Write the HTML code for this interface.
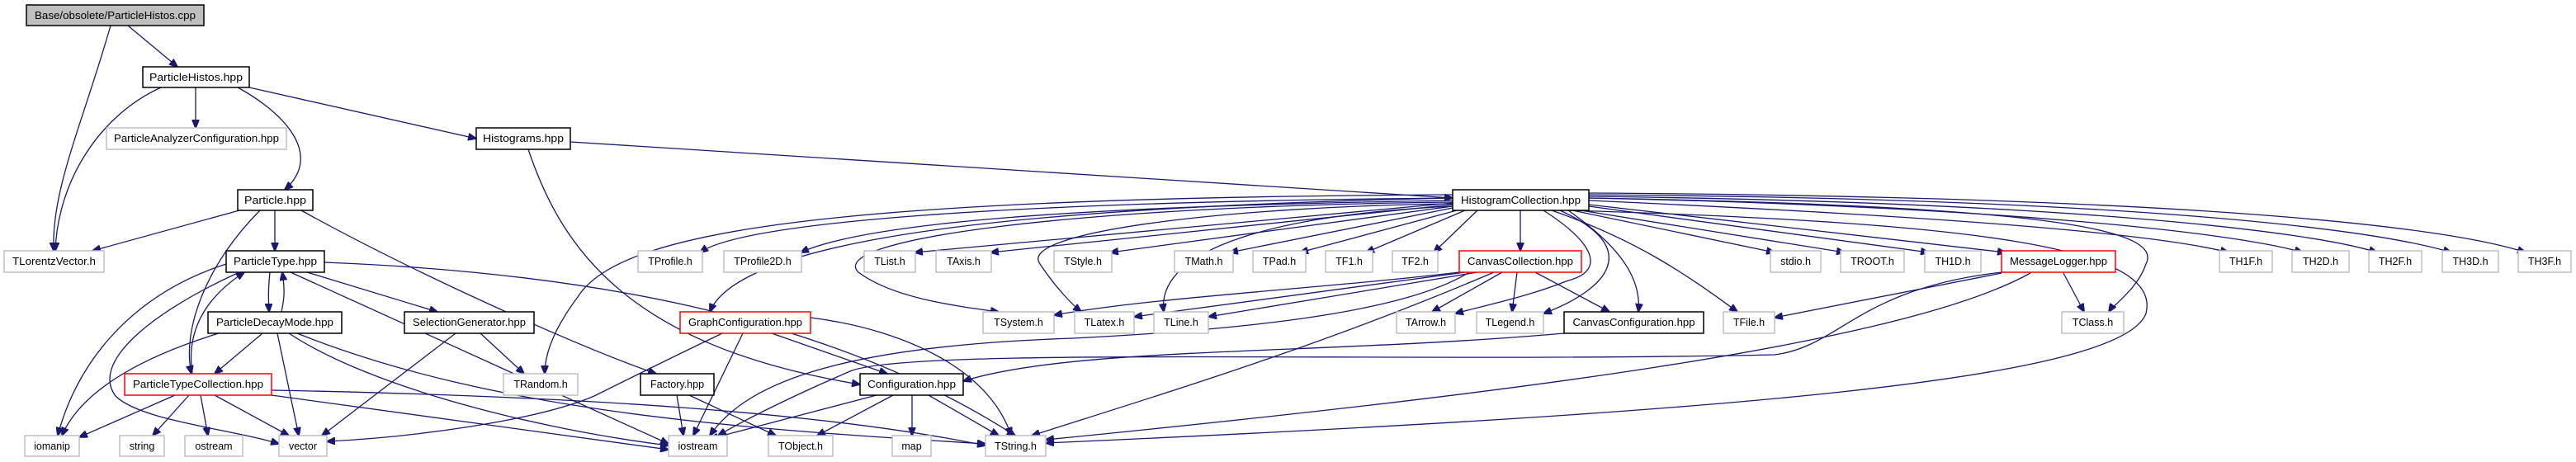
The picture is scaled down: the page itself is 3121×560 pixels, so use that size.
<!DOCTYPE html>
<html><head><meta charset="utf-8"><style>
html,body{margin:0;padding:0;background:#fff;}
svg{display:block;}
text{font-family:"Liberation Sans",sans-serif;font-size:12.5px;fill:#000;}
.e{fill:none;stroke:#191970;stroke-width:1.3;marker-end:url(#a);}
.g{fill:#fff;stroke:#bfbfbf;stroke-width:1.5;}
.b{fill:#fff;stroke:#000;stroke-width:1.5;}
.r{fill:#fff;stroke:#ff0000;stroke-width:1.5;}
</style></head><body>
<svg width="3121" height="560" viewBox="0 0 3121 560" xmlns="http://www.w3.org/2000/svg">
<defs><marker id="a" markerWidth="11" markerHeight="9" refX="10" refY="4.5" orient="auto" markerUnits="userSpaceOnUse"><path d="M0,0 L11,4.5 L0,9 z" fill="#191970" stroke="#191970"/></marker></defs>
<g>
<path class="e" d="M155,31 L215,81"/>
<path class="e" d="M134,31 C100,150 62,230 65,304"/>
<path class="e" d="M195,106 C120,140 70,220 67,304"/>
<path class="e" d="M237,106 L237,155"/>
<path class="e" d="M288,106 C350,140 390,190 345,230"/>
<path class="e" d="M302,106 L577,168"/>
<path class="e" d="M691,172 L1760,240"/>
<path class="e" d="M640,181 C680,300 760,420 1042,466"/>
<path class="e" d="M290,255 L112,304"/>
<path class="e" d="M333,255 L333,304"/>
<path class="e" d="M315,255 C250,320 220,400 232,453"/>
<path class="e" d="M365,255 C500,330 700,420 795,453"/>
<path class="e" d="M327,330 C325,350 325,360 326,378"/>
<path class="e" d="M341,378 C345,360 345,350 342,330"/>
<path class="e" d="M372,330 L530,378"/>
<path class="e" d="M393,318 C700,330 1000,380 1230,528"/>
<path class="e" d="M274,320 C150,360 90,450 70,528"/>
<path class="e" d="M352,330 L810,538"/>
<path class="e" d="M290,330 C180,380 110,440 140,480 C170,510 280,520 338,538"/>
<path class="e" d="M233,453 C225,400 250,360 296,330"/>
<path class="e" d="M318,404 L260,453"/>
<path class="e" d="M336,404 L362,528"/>
<path class="e" d="M265,404 C180,430 100,470 75,528"/>
<path class="e" d="M350,404 C450,470 650,520 810,540"/>
<path class="e" d="M360,404 C600,500 900,520 1194,538"/>
<path class="e" d="M582,404 L635,453"/>
<path class="e" d="M552,404 L390,528"/>
<path class="e" d="M212,479 L96,530"/>
<path class="e" d="M229,479 L185,528"/>
<path class="e" d="M243,479 L252,528"/>
<path class="e" d="M260,479 L350,528"/>
<path class="e" d="M329,473 C700,480 1000,500 1194,540"/>
<path class="e" d="M329,479 L810,545"/>
<path class="e" d="M820,479 L828,528"/>
<path class="e" d="M835,479 L940,528"/>
<path class="e" d="M1062,479 L860,532"/>
<path class="e" d="M1082,479 L990,528"/>
<path class="e" d="M1105,479 L1105,528"/>
<path class="e" d="M1125,479 L1210,528"/>
<path class="e" d="M875,404 C800,440 740,470 720,480 C650,510 500,530 396,535"/>
<path class="e" d="M900,404 L840,528"/>
<path class="e" d="M935,404 L1075,453"/>
<path class="e" d="M982,385 C1100,400 1200,450 1225,528"/>
<path class="e" d="M1842,255 L1842,304"/>
<path class="e" d="M1760,236 C1000,240 750,280 700,360 C670,400 660,430 660,453"/>
<path class="e" d="M1760,240 C1300,250 900,280 860,378"/>
<path class="e" d="M1760,245 C1300,250 1000,290 1040,330 C1080,360 1150,370 1210,378"/>
<path class="e" d="M1760,247 C1500,250 1230,280 1260,320 C1280,350 1300,370 1310,378"/>
<path class="e" d="M1760,250 C1550,260 1400,300 1410,378"/>
<path class="e" d="M1900,255 C2400,270 2620,300 2600,380 C2570,460 2100,500 1267,537"/>
<path class="e" d="M2425,330 C2250,350 2230,420 2150,430 C1700,440 1100,420 1030,450 C960,480 900,510 870,528"/>
<path class="e" d="M2425,331 L2150,385"/>
<path class="e" d="M2460,331 C2300,420 1800,480 1267,533"/>
<path class="e" d="M2500,331 L2525,378"/>
<path class="e" d="M1925,240 C2500,250 2620,280 2600,320 C2590,350 2560,370 2555,378"/>
<path class="e" d="M1880,255 C1980,290 2040,330 2105,378"/>
<path class="e" d="M1900,255 C1950,290 1990,330 1985,378"/>
<path class="e" d="M1890,255 C1990,300 1950,350 1870,380"/>
<path class="e" d="M1870,255 C1940,300 1940,330 1900,340 C1850,360 1800,370 1763,380"/>
<path class="e" d="M1760,252 L1490,306"/>
<path class="e" d="M1765,255 L1575,306"/>
<path class="e" d="M1775,255 L1655,306"/>
<path class="e" d="M1790,255 L1737,306"/>
<path class="e" d="M1760,250 L1345,306"/>
<path class="e" d="M1760,248 L1200,306"/>
<path class="e" d="M1760,246 L1108,306"/>
<path class="e" d="M1760,243 C1300,250 1050,270 970,306"/>
<path class="e" d="M1760,240 C1200,245 900,270 848,306"/>
<path class="e" d="M1905,255 L2150,306"/>
<path class="e" d="M1915,255 L2235,306"/>
<path class="e" d="M1925,250 L2337,306"/>
<path class="e" d="M1925,248 L2430,306"/>
<path class="e" d="M1925,243 C2300,260 2600,280 2700,306"/>
<path class="e" d="M1925,240 C2400,250 2700,280 2790,306"/>
<path class="e" d="M1925,238 C2500,245 2800,280 2880,306"/>
<path class="e" d="M1925,236 C2500,240 2850,270 2970,306"/>
<path class="e" d="M1925,234 C2600,238 2950,270 3060,306"/>
<path class="e" d="M1768,330 C1600,350 1400,360 1277,382"/>
<path class="e" d="M1775,330 L1374,384"/>
<path class="e" d="M1790,330 L1464,384"/>
<path class="e" d="M1820,330 L1735,378"/>
<path class="e" d="M1838,330 L1832,378"/>
<path class="e" d="M1860,330 L1950,378"/>
<path class="e" d="M1810,330 C1600,420 1400,480 1250,528"/>
<path class="e" d="M1780,330 C1700,380 1500,400 1300,410 C1000,420 900,470 860,528"/>
<path class="e" d="M1895,404 C1600,430 1300,420 1167,462"/>
</g>
<g>
<rect x="32" y="6" width="215" height="25" fill="#bfbfbf" stroke="#000" stroke-width="1.5"/><text x="139.5" y="23" text-anchor="middle" textLength="195" lengthAdjust="spacingAndGlyphs">Base/obsolete/ParticleHistos.cpp</text>
<rect class="b" x="173" y="81" width="129" height="25"/><text x="237.5" y="98" text-anchor="middle" textLength="113" lengthAdjust="spacingAndGlyphs">ParticleHistos.hpp</text>
<rect class="g" x="129" y="155" width="218" height="26"/><text x="238" y="172" text-anchor="middle" textLength="200" lengthAdjust="spacingAndGlyphs">ParticleAnalyzerConfiguration.hpp</text>
<rect class="b" x="577" y="155" width="114" height="26"/><text x="634" y="172" text-anchor="middle" textLength="98" lengthAdjust="spacingAndGlyphs">Histograms.hpp</text>
<rect class="b" x="288" y="230" width="91" height="25"/><text x="333.5" y="247" text-anchor="middle" textLength="75" lengthAdjust="spacingAndGlyphs">Particle.hpp</text>
<rect class="b" x="1760" y="230" width="165" height="25"/><text x="1842.5" y="247" text-anchor="middle" textLength="145" lengthAdjust="spacingAndGlyphs">HistogramCollection.hpp</text>
<rect class="g" x="5" y="304" width="121" height="26"/><text x="65.5" y="321" text-anchor="middle" textLength="101" lengthAdjust="spacingAndGlyphs">TLorentzVector.h</text>
<rect class="b" x="274" y="304" width="119" height="26"/><text x="333.5" y="321" text-anchor="middle" textLength="101" lengthAdjust="spacingAndGlyphs">ParticleType.hpp</text>
<rect class="g" x="773" y="304" width="78" height="26"/><text x="812" y="321" text-anchor="middle">TProfile.h</text>
<rect class="g" x="877" y="304" width="94" height="26"/><text x="924" y="321" text-anchor="middle">TProfile2D.h</text>
<rect class="g" x="1047" y="304" width="62" height="26"/><text x="1078" y="321" text-anchor="middle">TList.h</text>
<rect class="g" x="1134" y="304" width="67" height="26"/><text x="1167.5" y="321" text-anchor="middle">TAxis.h</text>
<rect class="g" x="1277" y="304" width="70" height="26"/><text x="1312" y="321" text-anchor="middle">TStyle.h</text>
<rect class="g" x="1423" y="304" width="71" height="26"/><text x="1458.5" y="321" text-anchor="middle">TMath.h</text>
<rect class="g" x="1518" y="304" width="64" height="26"/><text x="1550" y="321" text-anchor="middle">TPad.h</text>
<rect class="g" x="1606" y="304" width="57" height="26"/><text x="1634.5" y="321" text-anchor="middle">TF1.h</text>
<rect class="g" x="1687" y="304" width="55" height="26"/><text x="1714.5" y="321" text-anchor="middle">TF2.h</text>
<rect class="r" x="1768" y="304" width="148" height="26"/><text x="1842" y="321" text-anchor="middle" textLength="128" lengthAdjust="spacingAndGlyphs">CanvasCollection.hpp</text>
<rect class="g" x="2145" y="304" width="61" height="26"/><text x="2175.5" y="321" text-anchor="middle">stdio.h</text>
<rect class="g" x="2230" y="304" width="77" height="26"/><text x="2268.5" y="321" text-anchor="middle">TROOT.h</text>
<rect class="g" x="2332" y="304" width="68" height="26"/><text x="2366" y="321" text-anchor="middle">TH1D.h</text>
<rect class="r" x="2425" y="304" width="138" height="26"/><text x="2494" y="321" text-anchor="middle" textLength="118" lengthAdjust="spacingAndGlyphs">MessageLogger.hpp</text>
<rect class="g" x="2689" y="304" width="64" height="26"/><text x="2721" y="321" text-anchor="middle">TH1F.h</text>
<rect class="g" x="2777" y="304" width="69" height="26"/><text x="2811.5" y="321" text-anchor="middle">TH2D.h</text>
<rect class="g" x="2870" y="304" width="64" height="26"/><text x="2902" y="321" text-anchor="middle">TH2F.h</text>
<rect class="g" x="2959" y="304" width="68" height="26"/><text x="2993" y="321" text-anchor="middle">TH3D.h</text>
<rect class="g" x="3051" y="304" width="64" height="26"/><text x="3083" y="321" text-anchor="middle">TH3F.h</text>
<rect class="b" x="252" y="378" width="162" height="26"/><text x="333" y="395" text-anchor="middle" textLength="142" lengthAdjust="spacingAndGlyphs">ParticleDecayMode.hpp</text>
<rect class="b" x="490" y="378" width="157" height="26"/><text x="568.5" y="395" text-anchor="middle" textLength="137" lengthAdjust="spacingAndGlyphs">SelectionGenerator.hpp</text>
<rect class="r" x="824" y="378" width="158" height="26"/><text x="903" y="395" text-anchor="middle" textLength="138" lengthAdjust="spacingAndGlyphs">GraphConfiguration.hpp</text>
<rect class="g" x="1191" y="378" width="86" height="26"/><text x="1234" y="395" text-anchor="middle">TSystem.h</text>
<rect class="g" x="1302" y="378" width="72" height="26"/><text x="1338" y="395" text-anchor="middle">TLatex.h</text>
<rect class="g" x="1398" y="378" width="66" height="26"/><text x="1431" y="395" text-anchor="middle">TLine.h</text>
<rect class="g" x="1692" y="378" width="71" height="26"/><text x="1727.5" y="395" text-anchor="middle">TArrow.h</text>
<rect class="g" x="1789" y="378" width="81" height="26"/><text x="1829.5" y="395" text-anchor="middle">TLegend.h</text>
<rect class="b" x="1895" y="378" width="169" height="26"/><text x="1979.5" y="395" text-anchor="middle" textLength="148" lengthAdjust="spacingAndGlyphs">CanvasConfiguration.hpp</text>
<rect class="g" x="2088" y="378" width="62" height="26"/><text x="2119" y="395" text-anchor="middle">TFile.h</text>
<rect class="g" x="2498" y="378" width="75" height="26"/><text x="2535.5" y="395" text-anchor="middle">TClass.h</text>
<rect class="r" x="151" y="453" width="178" height="26"/><text x="240" y="470" text-anchor="middle" textLength="158" lengthAdjust="spacingAndGlyphs">ParticleTypeCollection.hpp</text>
<rect class="g" x="610" y="453" width="90" height="26"/><text x="655" y="470" text-anchor="middle">TRandom.h</text>
<rect class="b" x="776" y="453" width="89" height="26"/><text x="820.5" y="470" text-anchor="middle">Factory.hpp</text>
<rect class="b" x="1042" y="453" width="125" height="26"/><text x="1104.5" y="470" text-anchor="middle" textLength="107" lengthAdjust="spacingAndGlyphs">Configuration.hpp</text>
<rect class="g" x="30" y="528" width="66" height="25"/><text x="63" y="545" text-anchor="middle">iomanip</text>
<rect class="g" x="145" y="528" width="54" height="25"/><text x="172" y="545" text-anchor="middle">string</text>
<rect class="g" x="224" y="528" width="70" height="25"/><text x="259" y="545" text-anchor="middle">ostream</text>
<rect class="g" x="338" y="528" width="58" height="25"/><text x="367" y="545" text-anchor="middle">vector</text>
<rect class="g" x="810" y="528" width="71" height="25"/><text x="845.5" y="545" text-anchor="middle">iostream</text>
<rect class="g" x="931" y="528" width="78" height="25"/><text x="970" y="545" text-anchor="middle">TObject.h</text>
<rect class="g" x="1081" y="528" width="47" height="25"/><text x="1104.5" y="545" text-anchor="middle">map</text>
<rect class="g" x="1194" y="528" width="73" height="25"/><text x="1230.5" y="545" text-anchor="middle">TString.h</text>
</g>
</svg>
</body></html>
